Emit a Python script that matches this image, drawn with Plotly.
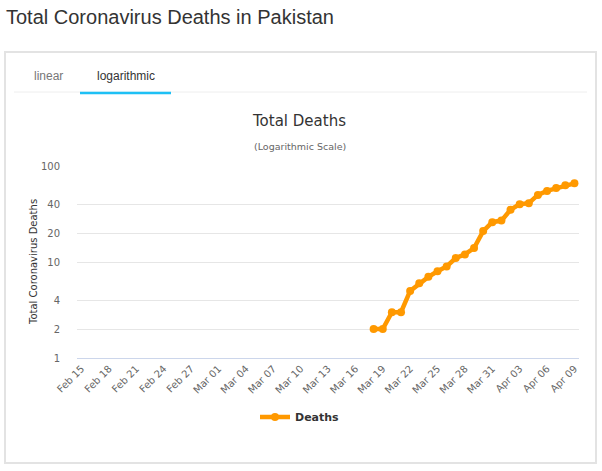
import pandas as pd
import plotly.graph_objects as go

# Categories (all dates on the axis)
all_dates = [d.strftime("%b %d") for d in pd.date_range("2020-02-15", "2020-04-09")]
tick_labels = all_dates[::3]

# Series: total deaths (logarithmic view)
death_dates = [d.strftime("%b %d") for d in pd.date_range("2020-03-18", "2020-04-09")]
deaths = [2, 2, 3, 3, 5, 6, 7, 8, 9, 11, 12, 14, 21, 26, 27, 35, 40, 41, 50, 55, 59, 63, 66]

y_ticks = [1, 2, 4, 10, 20, 40, 100]

W, H = 602, 471
# plot area in window pixels: x 77-579, y 166-358
L, R, T, B = 77, 602 - 579, 166, 471 - 358
ORANGE = "#FF9900"
CHART_FONT = "DejaVu Sans"

fig = go.Figure()
fig.add_trace(go.Scatter(
    x=death_dates, y=deaths, mode="lines+markers", name="<b>Deaths</b>",
    line=dict(color=ORANGE, width=4.5),
    marker=dict(color=ORANGE, size=8),
))

pw, ph = W - L - R, H - T - B
def ppx(x):  # window pixel x -> paper
    return (x - L) / pw
def ppy(y):  # window pixel y -> paper
    return (H - B - y) / ph

shapes = [
    dict(type="rect", xref="paper", yref="paper", x0=ppx(5), x1=ppx(596), y0=ppy(463), y1=ppy(52),
         line=dict(color="#e3e3e3", width=2), layer="below"),
    dict(type="line", xref="paper", yref="paper", x0=ppx(14), x1=ppx(587), y0=ppy(92), y1=ppy(92),
         line=dict(color="#eeeeee", width=1)),
    dict(type="line", xref="paper", yref="paper", x0=ppx(80), x1=ppx(171), y0=ppy(93), y1=ppy(93),
         line=dict(color="#1ec0f5", width=2.5)),
]

annotations = [
    dict(text="Total Coronavirus Deaths in Pakistan", xref="paper", yref="paper",
         x=ppx(4), y=ppy(17), xanchor="left", yanchor="middle", showarrow=False,
         font=dict(family="Liberation Sans", size=20, color="#333333")),
    dict(text="linear", xref="paper", yref="paper", x=ppx(48), y=ppy(76),
         xanchor="center", yanchor="middle", showarrow=False,
         font=dict(family="Liberation Sans", size=12, color="#777777")),
    dict(text="logarithmic", xref="paper", yref="paper", x=ppx(126), y=ppy(76),
         xanchor="center", yanchor="middle", showarrow=False,
         font=dict(family="Liberation Sans", size=12, color="#333333")),
    dict(text="Total Deaths", xref="paper", yref="paper", x=ppx(299), y=ppy(121),
         xanchor="center", yanchor="middle", showarrow=False,
         font=dict(family=CHART_FONT, size=15, color="#333333")),
    dict(text="(Logarithmic Scale)", xref="paper", yref="paper", x=ppx(300), y=ppy(146),
         xanchor="center", yanchor="middle", showarrow=False,
         font=dict(family=CHART_FONT, size=9.5, color="#666666")),
    dict(text="Total Coronavirus Deaths", xref="paper", yref="paper", x=ppx(33), y=ppy(262),
         xanchor="center", yanchor="middle", showarrow=False, textangle=-90,
         font=dict(family=CHART_FONT, size=10, color="#333333")),
]

fig.update_layout(
    width=W, height=H,
    margin=dict(l=L, r=R, t=T, b=B, pad=0),
    paper_bgcolor="white", plot_bgcolor="white",
    font=dict(family=CHART_FONT, color="#666666", size=10),
    showlegend=True,
    legend=dict(orientation="h", x=ppx(300), y=ppy(417), xanchor="center", yanchor="middle",
                font=dict(family=CHART_FONT, size=11, color="#333333"),
                bgcolor="rgba(0,0,0,0)", itemwidth=30),
    shapes=shapes,
    annotations=annotations,
)

fig.update_xaxes(
    type="category", categoryorder="array", categoryarray=all_dates,
    range=[-0.5, len(all_dates) - 0.5],
    tickmode="array", tickvals=tick_labels, ticktext=tick_labels,
    tickangle=-45, showgrid=False, zeroline=False,
    showline=True, linecolor="#ccd6eb", linewidth=1,
    ticks="", tickfont=dict(size=10, color="#666666"),
    fixedrange=True,
)
fig.update_yaxes(
    type="log", range=[0, 2],
    tickmode="array", tickvals=y_ticks, ticktext=[str(v) for v in y_ticks],
    showgrid=True, gridcolor="#e6e6e6", gridwidth=1,
    zeroline=False, showline=False,
    ticks="outside", ticklen=14, tickcolor="rgba(0,0,0,0)",
    tickfont=dict(size=10, color="#666666"),
    fixedrange=True,
)

fig.write_html(
    "out.html",
    config={"displayModeBar": False},
    post_script="document.body.style.margin='0px';document.body.style.overflow='hidden';",
)
